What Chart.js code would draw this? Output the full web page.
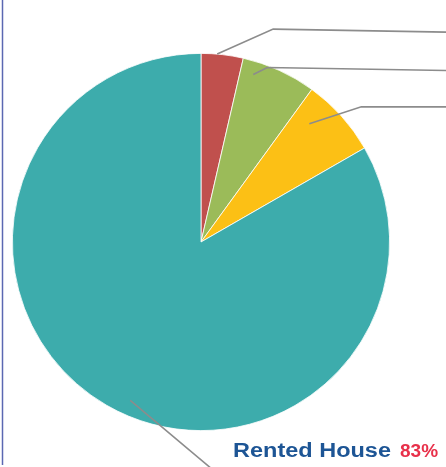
<!DOCTYPE html>
<html>
<head>
<meta charset="utf-8">
<script src="https://cdn.jsdelivr.net/npm/chart.js@4.4.1/dist/chart.umd.min.js"></script>
<style>
  html, body { margin: 0; padding: 0; background: #ffffff; }
  #wrap { position: relative; width: 446px; height: 467px; }
</style>
</head>
<body>
<div id="wrap"><canvas id="c" width="446" height="467"></canvas></div>
<script>
// ---- data ----
const categories = ['Own House', 'Company Quarters', 'Relatives House', 'Rented House'];
const shares = [3.6, 6.4, 6.7, 83.3];
const percentLabels = ['4%', '6%', '7%', '83%'];
const sliceColors = ['#c0504d', '#9bbb59', '#fcc015', '#3dacac'];

// leader line styling: anchor fraction within slice, radius factor, elbow offset, end y offset
const leaderStyle = [
  { frac: 0.38, rf: 1.00, ex: 56, ey: -25, endDy: 3 },
  { frac: 0.19, rf: 0.93, ex: 14, ey: -7, endDy: 3 },
  { frac: 0.27, rf: 0.85, ex: 52, ey: -17, endDy: 0 },
  { frac: 0.48, rf: 0.92, ex: 100, ey: 84, endDy: 0 }
];

const leaderPlugin = {
  id: 'leaders',
  beforeDraw(chart) {
    const ctx = chart.ctx;
    ctx.save();
    ctx.strokeStyle = '#5b68b2';
    ctx.lineWidth = 1.5;
    ctx.beginPath();
    ctx.moveTo(2.5, 0);
    ctx.lineTo(2.5, 465);
    ctx.stroke();
    ctx.restore();
  },
  afterDatasetsDraw(chart) {
    const ctx = chart.ctx;
    const meta = chart.getDatasetMeta(0);
    const W = chart.width;
    ctx.save();
    ctx.strokeStyle = '#8c8c8c';
    ctx.lineWidth = 1.6;
    meta.data.forEach((arc, i) => {
      const p = arc.getProps(['x', 'y', 'startAngle', 'endAngle', 'outerRadius'], true);
      const s = leaderStyle[i];
      const a = p.startAngle + (p.endAngle - p.startAngle) * s.frac;
      const r = p.outerRadius * s.rf;
      const sx = p.x + Math.cos(a) * r;
      const sy = p.y + Math.sin(a) * r;
      const bx = sx + s.ex;
      const by = sy + s.ey;
      ctx.beginPath();
      ctx.moveTo(sx, sy);
      ctx.lineTo(bx, by);
      if (i < 3) ctx.lineTo(W, by + s.endDy);
      ctx.stroke();
    });
    ctx.restore();

    // data label for the big slice
    const last = shares.length - 1;
    ctx.save();
    ctx.textBaseline = 'alphabetic';
    ctx.textAlign = 'left';
    ctx.font = 'bold 20px "Liberation Sans", Arial, sans-serif';
    ctx.fillStyle = '#1d5595';
    const name = categories[last];
    const nameW = ctx.measureText(name).width;
    const targetW = 158;
    ctx.translate(233, 457);
    ctx.scale(targetW / nameW, 1);
    ctx.fillText(name, 0, 0);
    ctx.restore();
    ctx.save();
    ctx.font = 'bold 19px "Liberation Sans", Arial, sans-serif';
    ctx.fillStyle = '#e8304a';
    ctx.textBaseline = 'alphabetic';
    ctx.fillText(percentLabels[last], 400, 457);
    ctx.restore();
  }
};

new Chart(document.getElementById('c'), {
  type: 'pie',
  data: {
    labels: categories,
    datasets: [{
      data: shares,
      backgroundColor: sliceColors,
      borderColor: '#ffffff',
      borderWidth: 0.8
    }]
  },
  options: {
    responsive: false,
    animation: false,
    layout: { padding: { left: 12, right: 56, top: 53, bottom: 36 } },
    plugins: {
      legend: { display: false },
      tooltip: { enabled: false }
    }
  },
  plugins: [leaderPlugin]
});
</script>
</body>
</html>
